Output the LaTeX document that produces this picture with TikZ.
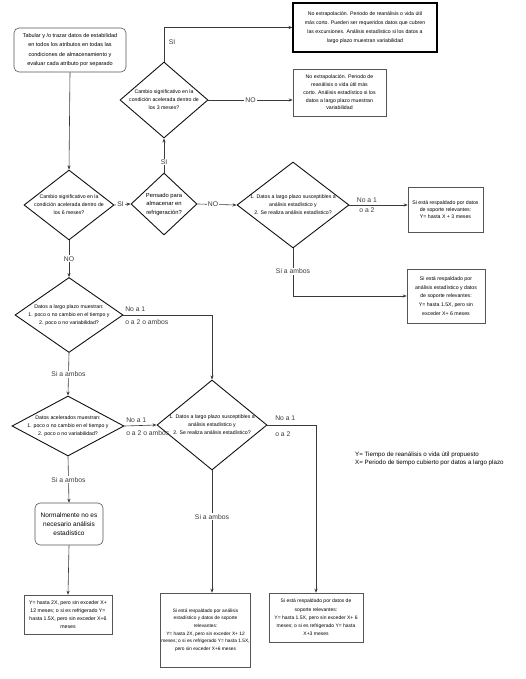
\documentclass[tikz,border=0pt]{standalone}
\usepackage{fontspec}
\setmainfont{Liberation Sans}
\usepackage{tikz}
\usetikzlibrary{arrows.meta, positioning, shapes.geometric, calc}
\usepackage{xcolor}
\definecolor{cLine}{HTML}{3A3A3A}
\definecolor{cBox}{HTML}{555555}
\definecolor{cDia}{HTML}{111111}
\newcommand{\boxfont}{\fontsize{5.2}{7.8}\selectfont}
\newcommand{\diafont}{\fontsize{5.2}{8}\selectfont}
\newcommand{\lblfont}{\fontsize{6.8}{8}\selectfont}

\begin{document}
\begin{tikzpicture}[x=1pt, y=-1pt,
    >={Stealth[length=4pt, width=3.2pt]},
    box/.style={
        rectangle, draw=cBox, line width=0.6pt,
        font=\boxfont, align=center, inner sep=1pt, text=black
    },
    rbox/.style={box, rounded corners=5pt},
    decision/.style={
        diamond, draw=cDia, line width=0.9pt, inner sep=0pt
    },
    dtext/.style={font=\diafont, align=center, inner sep=0pt},
    lbl/.style={font=\lblfont, inner sep=1pt, fill=white},
    side/.style={font=\lblfont, inner sep=1.5pt},
    arr/.style={->, line width=0.6pt, color=cLine},
]
\useasboundingbox (0,0) rectangle (526,679);

% Start
\node[rbox, minimum width=112, minimum height=44,
      font=\fontsize{5.5}{9.3}\selectfont] (init) at (70,50)
    {Tabular y /o trazar datos de estabilidad\\en todos los atributos en todas las\\
     condiciones de almacenamiento y\\evaluar cada atributo por separado};

% Column 1 - accelerated condition
\node[decision, minimum width=90, minimum height=70] (dB) at (69,205) {};
\node[dtext] (tB) at (dB) {Cambio significativo en la\\condición acelerada dentro de\\los 6 meses?};
\node[decision, minimum width=108, minimum height=75] (dG) at (69,315) {};
\node[dtext] (tG) at (dG) {Datos a largo plazo muestran:\\1. poco o no cambio en el tiempo y\\2. poco o no variabilidad?};
\node[decision, minimum width=112, minimum height=60] (dI) at (68,426) {};
\node[dtext] (tI) at (dI) {Datos acelerados muestran:\\1. poco o no cambio en el tiempo y\\2. poco o no variabilidad?};
\node[rbox, minimum width=68, minimum height=42,
      font=\fontsize{6.5}{8.7}\selectfont] (normal) at (69,524)
    {Normalmente no es\\necesario análisis\\estadístico};
\node[box, minimum width=88, minimum height=39] (accel) at (68,614.5)
    {Y= hasta 2X, pero sin exceder X+\\12 meses; o si es refrigerado Y=\\hasta 1.5X, pero sin exceder X+6\\meses};

% Refrigeration branch
\node[decision, minimum width=66, minimum height=62] (dC) at (164,204) {};
\node[dtext, font=\fontsize{5.8}{8.5}\selectfont] (tC) at (dC) {Pensado para\\almacenar en\\refrigeración?};
\node[decision, minimum width=88, minimum height=76] (dA) at (164,100) {};
\node[dtext] (tA) at (dA) {Cambio significativo en la\\condición acelerada dentro de\\los 3 meses?};
\node[box, draw=black, line width=1.1pt, minimum width=144, minimum height=49,
      font=\fontsize{5.2}{8.8}\selectfont] (exc) at (365,27.5)
    {No extrapolación. Periodo de reanálisis o vida útil\\más corto. Pueden ser requeridos datos que cubren\\
     las excursiones. Análisis estadístico si los datos a\\largo plazo muestran variabilidad};
\node[box, minimum width=93, minimum height=47] (noex) at (339.5,92.5)
    {No extrapolación. Periodo de\\reanálisis o vida útil más\\corto. Análisis estadístico si los\\
     datos a largo plazo muestran\\variabilidad};

% Long-term statistics, upper
\node[decision, minimum width=112, minimum height=86] (dD) at (293,205) {};
\node[dtext] (tD) at (dD) {1. Datos a largo plazo susceptibles a\\análisis estadístico y\\2. Se realiza análisis estadístico?};
\node[box, minimum width=75, minimum height=45, font=\fontsize{5.2}{7.2}\selectfont] (plus3) at (445.5,209.5)
    {Si está respaldado por datos\\de soporte relevantes:\\Y= hasta X + 3 meses};
\node[box, minimum width=78, minimum height=54, font=\fontsize{5.2}{8.7}\selectfont] (plus6) at (446,296)
    {Si está respaldado por\\análisis estadístico y datos\\de soporte relevantes:\\
     Y= hasta 1.5X, pero sin\\exceder X+ 6 meses};

% Long-term statistics, lower
\node[decision, minimum width=110, minimum height=90] (dH) at (212,425) {};
\node[dtext] (tH) at (dH) {1. Datos a largo plazo susceptibles a\\análisis estadístico y\\2. Se realiza análisis estadístico?};
\node[box, minimum width=89, minimum height=74, font=\fontsize{4.8}{7.6}\selectfont] (statlong) at (205.5,630)
    {Si está respaldado por análisis\\estadístico y datos de soporte\\relevantes:\\
     Y= hasta 2X, pero sin exceder X+ 12\\meses; o si es refrigerado Y= hasta 1.5X,\\pero sin exceder X+6 meses};
\node[box, minimum width=94, minimum height=49, font=\fontsize{5}{8.3}\selectfont] (statk) at (316,617.5)
    {Si está respaldado por datos de\\soporte relevantes:\\Y= hasta 1.5X, pero sin exceder X+ 6\\
     meses; o si es refrigerado Y= hasta\\X+3 meses};

% Legend
\node[anchor=west, align=left, inner sep=0pt, font=\fontsize{6.2}{8}\selectfont] (legend) at (355,459)
    {Y= Tiempo de reanálisis o vida útil propuesto\\X= Periodo de tiempo cubierto por datos a largo plazo};

% Arrows - top section
\draw[arr] (init.south) -- (dB.north);
\draw[arr] (dA.north) |- (exc.west) node[side, right=3pt, pos=0.28] {SI};
\draw[arr] (dA.east) -- (dA.east -| noex.west) node[lbl, midway] {NO};
\draw[arr] (dB.east) -- (dC.west) node[lbl, pos=0.38] {SI};
\draw[arr] (dC.north) -- (dA.south) node[lbl, pos=0.31] {SI};
\draw[arr] (dC.east) -- (dD.west) node[lbl, pos=0.4] {NO};
\draw[arr] (dD.east) -- (dD.east -| plus3.west)
    node[side, above, pos=0.3, yshift=1pt] {No a 1} node[side, below, pos=0.3, yshift=-1pt] {o a 2};
\draw[arr] (dD.south) |- (plus6.west) node[lbl, pos=0.24] {Si a ambos};

% Arrows - left column
\draw[arr] (dG.east) node[side, above right, yshift=2pt] {No a 1}
    node[side, below right, yshift=-3pt] {o a 2 o ambos} -| (dH.north);
\draw[arr] (dB.south) -- (dG.north) node[lbl, midway] {NO};
\draw[arr] (dG.south) -- (dI.north) node[lbl, midway] {Si a ambos};
\draw[arr] (dI.east) node[side, above right, yshift=2pt] {No a 1}
    node[side, below right, yshift=-3pt] {o a 2 o ambos} -- (dH.west);
\draw[arr] (dI.south) -- (normal.north) node[lbl, midway] {Si a ambos};
\draw[arr] (normal.south) -- (accel.north);

% Arrows - bottom
\draw[arr] (dH.south) -- (dH.south |- statlong.north) node[lbl, pos=0.38] {Si a ambos};
\draw[arr] (dH.east) node[side, above right=3pt and 6pt] {No a 1}
    node[side, below right=5pt and 6pt] {o a 2} -| (statk.north);

\end{tikzpicture}
\end{document}
